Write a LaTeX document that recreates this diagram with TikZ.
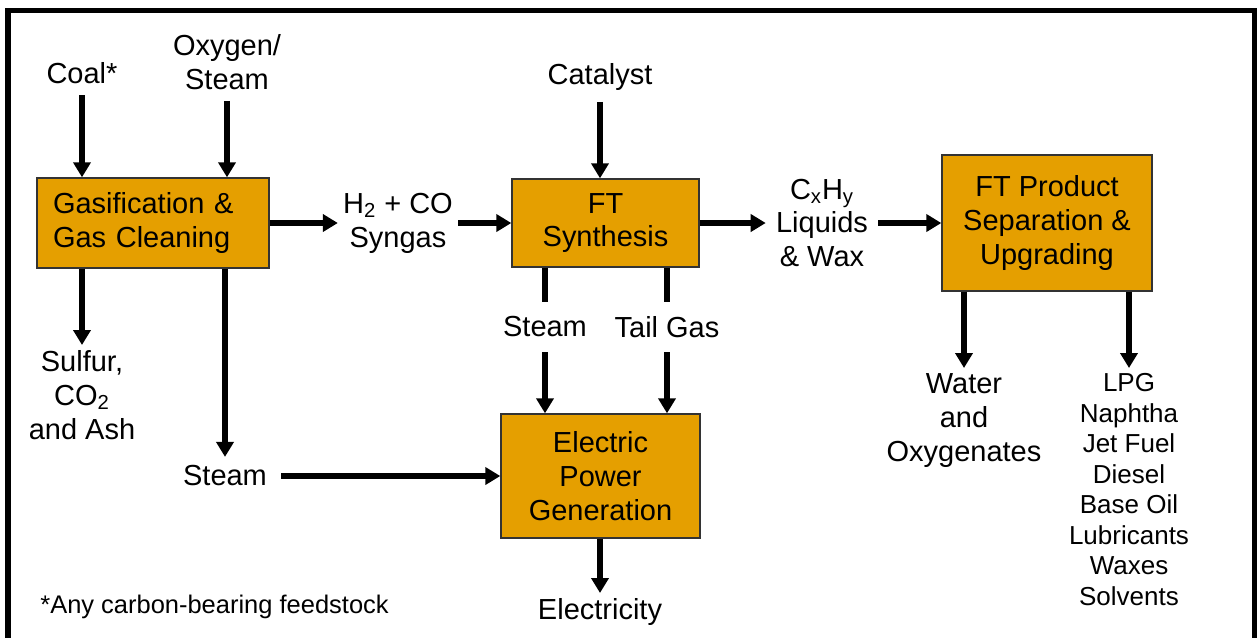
\documentclass[tikz,border=0pt]{standalone}
\usepackage{fontspec}
\setmainfont{Liberation Sans}
\usetikzlibrary{arrows.meta,positioning}
\definecolor{ftorange}{RGB}{229,159,0}

\begin{document}
\begin{tikzpicture}[
    x=0.02cm, y=-0.02cm,
    font=\fontsize{16.5}{19.3}\selectfont,
    proc/.style={
        draw=black!80,
        fill=ftorange,
        line width=0.8pt,
        align=center,
        inner sep=0pt
    },
    lbl/.style={
        align=center,
        inner xsep=0.15cm,
        inner ysep=0.1cm
    },
    feed/.style={lbl, inner ysep=0.22cm},
    gap/.style={minimum height=1.0cm, inner sep=0pt},
    arr/.style={-{Triangle[length=0.3cm, width=0.34cm]}, line width=0.11cm},
    pipe/.style={line width=0.11cm},
    frame/.style={line width=0.11cm, line join=miter}
]
    \useasboundingbox (0,0) rectangle (1257,637);
    %% Rahmen
    \draw[frame] (8,660) |- (1254.5,10.5) -- (1254.5,660);

    %% Prozessboxen
    \node[proc, minimum width=4.64cm, minimum height=1.8cm, text width=4cm, align=left] (gas) at (153,223) {Gasification \&\\Gas Cleaning};
    \node[proc, minimum width=3.74cm, minimum height=1.76cm] (ft) at (605.5,223) {FT\\Synthesis};
    \node[proc, minimum width=4.2cm, minimum height=2.72cm] (prod) at (1047,223) {FT Product\\Separation \&\\Upgrading};
    \node[proc, minimum width=3.98cm, minimum height=2.48cm] (elec) at (600.5,476) {Electric\\Power\\Generation};

    %% Einsatzstoffe
    \node[feed] (coal) at (82,73) {Coal*};
    \node[feed] (oxy) at (227,62) {Oxygen/\\Steam};
    \node[feed] (cat) at (600,77) {Catalyst};

    %% Zwischenstroeme
    \node[lbl, inner xsep=0.1cm] (syngas) at (398,223) {H\textsubscript{2} + CO\\Syngas};
    \node[lbl, inner xsep=0.2cm] (cxhy) at (822,223) {C\textsubscript{x}H\textsubscript{y}\\Liquids\\\& Wax};
    \node[gap] (steamft) at (545,327) {Steam};
    \node[gap] (tail) at (667,327) {Tail Gas};
    \node[lbl, inner xsep=0.28cm, inner ysep=0.17cm] (steamgas) at (225,476) {Steam};

    %% Produkte
    \node[lbl, anchor=north] (sulfur) at (82,345) {Sulfur,\\CO\textsubscript{2}\\and Ash};
    \node[lbl, anchor=north] (water) at (964,368) {Water\\and\\Oxygenates};
    \node[lbl, anchor=north, font=\fontsize{14.8}{17.4}\selectfont] (fuels) at (1129,368) {LPG\\Naphtha\\Jet Fuel\\Diesel\\Base Oil\\Lubricants\\Waxes\\Solvents};
    \node[lbl, anchor=north] (power) at (600,593) {Electricity};

    %% Fussnote
    \node[anchor=west, inner sep=0pt, font=\fontsize{14.5}{17}\selectfont] (note) at (40,607) {*Any carbon-bearing feedstock};

    %% Pfeile
    \draw[arr] (coal) -- (coal |- gas.north);
    \draw[arr] (oxy) -- (oxy |- gas.north);
    \draw[arr] (cat) -- (cat |- ft.north);
    \draw[arr] (gas) -- (syngas);
    \draw[arr] (syngas) -- (ft);
    \draw[arr] (ft) -- (cxhy);
    \draw[arr] (cxhy) -- (prod);
    \draw[arr] (gas.south -| sulfur) -- (sulfur);
    \draw[arr] (gas.south -| steamgas) -- (steamgas);
    \draw[arr] (steamgas) -- (elec);
    \draw[pipe] (ft.south -| steamft) -- (steamft);
    \draw[arr] (steamft) -- (steamft |- elec.north);
    \draw[pipe] (ft.south -| tail) -- (tail);
    \draw[arr] (tail) -- (tail |- elec.north);
    \draw[arr] (prod.south -| water) -- (water);
    \draw[arr] (prod.south -| fuels) -- (fuels);
    \draw[arr] (elec.south -| power) -- (power);
\end{tikzpicture}
\end{document}
